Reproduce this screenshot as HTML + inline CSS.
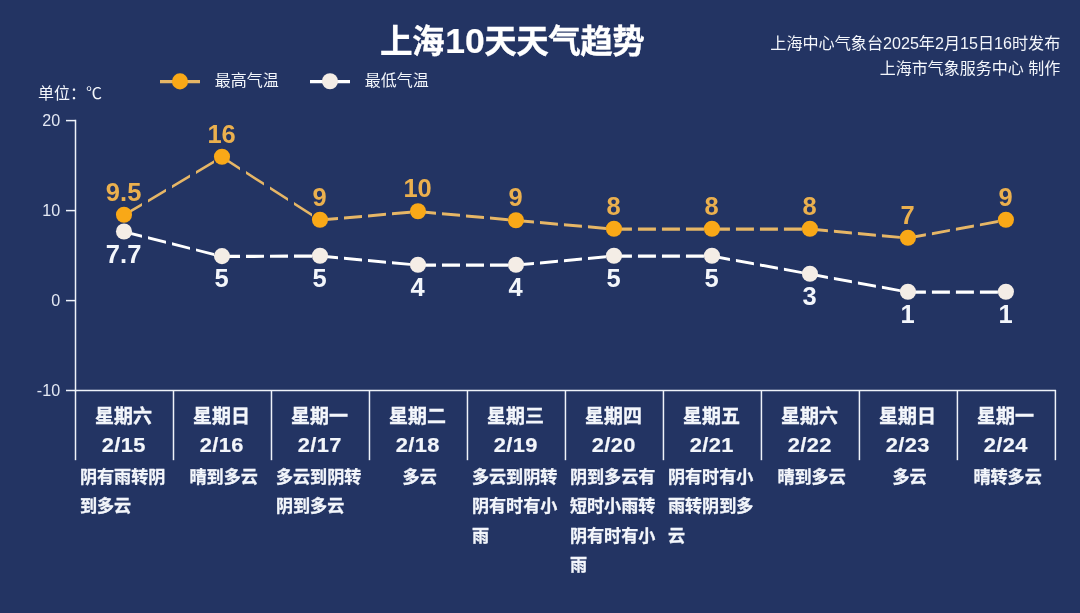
<!DOCTYPE html>
<html lang="zh-CN">
<head>
<meta charset="utf-8">
<title>上海10天天气趋势</title>
<style>
html,body{margin:0;padding:0;background:#233463;}
body{width:1080px;height:613px;overflow:hidden;}
svg{display:block;font-family:"Liberation Sans","Noto Sans CJK SC",sans-serif;fill:#f3f6fb;}
.title{font-size:32.6px;font-weight:bold;fill:#fff;letter-spacing:-0.6px;stroke:#fff;stroke-width:0.3px;}
.title .tn{font-size:35.5px;letter-spacing:0;stroke-width:0.2px;}
.sub{font-size:16px;}
.yl text{font-size:16.8px;fill:#e3e8f3;}
.dl text{font-size:26.3px;font-weight:bold;}
.dl text.w{font-size:25.5px;}
.xl text{font-size:19px;font-weight:bold;stroke:#f3f6fb;stroke-width:0.35px;}
.xl text.dt{font-size:20.8px;stroke-width:0.2px;letter-spacing:0.4px;}
.ds text{font-size:17.1px;font-weight:bold;stroke:#f3f6fb;stroke-width:0.3px;}
</style>
</head>
<body>
<svg width="1080" height="613" viewBox="0 0 1080 613">
<rect width="1080" height="613" fill="#233463"/>
<g stroke="#eef2f9" stroke-width="1.5" fill="none">
<path d="M75.5 119.7V391.2"/>
<path d="M66.0 390.5H1056.1"/>
<path d="M66.0 120.6H75.5"/>
<path d="M66.0 210.6H75.5"/>
<path d="M66.0 300.6H75.5"/>
<path d="M173.49 390.5V460.2"/>
<path d="M271.48 390.5V460.2"/>
<path d="M369.47 390.5V460.2"/>
<path d="M467.46 390.5V460.2"/>
<path d="M565.45 390.5V460.2"/>
<path d="M663.44 390.5V460.2"/>
<path d="M761.43 390.5V460.2"/>
<path d="M859.42 390.5V460.2"/>
<path d="M957.41 390.5V460.2"/>
<path d="M1055.40 390.5V460.2"/>
<path d="M75.50 390.5V460.2"/>
</g>
<g class="yl" text-anchor="end">
<text transform="translate(60.10 126.30) scale(0.960 1)" >20</text>
<text transform="translate(60.10 216.30) scale(0.960 1)" >10</text>
<text transform="translate(60.10 306.30) scale(0.960 1)" >0</text>
<text transform="translate(60.10 396.30) scale(0.960 1)" >-10</text>
</g>
<text class="title" x="380" y="53">上海<tspan class="tn" dx="1.2">10</tspan><tspan dx="-0.4">天天气趋势</tspan></text>
<text class="sub" x="1060.3" y="49.3" text-anchor="end" textLength="290" lengthAdjust="spacingAndGlyphs">上海中心气象台2025年2月15日16时发布</text>
<text class="sub" x="1060.3" y="74.4" text-anchor="end">上海市气象服务中心 制作</text>
<text class="sub unit" x="38" y="98.6">单位：℃</text>
<path d="M160 81.6H200" stroke="#e6b666" stroke-width="3.4"/>
<circle cx="180" cy="81.4" r="8.05" fill="#f9a817"/>
<text class="sub" x="214.8" y="86.4">最高气温</text>
<path d="M310 81.6H350" stroke="#ffffff" stroke-width="3.4"/>
<circle cx="330" cy="81.3" r="8.05" fill="#f4ede6"/>
<text class="sub" x="364.8" y="86.4">最低气温</text>
<path d="M124.00 213.61L142.00 202.96L142.00 205.93L124.00 216.59ZM148.00 199.41L166.00 188.75L166.00 191.73L148.00 202.38ZM172.00 185.20L190.00 174.55L190.00 177.52L172.00 188.18ZM196.00 171.00L214.00 160.34L214.00 163.32L196.00 173.97ZM220.00 156.79L221.99 155.61L221.99 158.59L220.00 159.77ZM221.99 155.61L239.99 167.18L239.99 170.16L221.99 158.59ZM245.99 171.04L263.99 182.61L263.99 185.59L245.99 174.02ZM269.99 186.47L287.99 198.04L287.99 201.02L269.99 189.45ZM293.99 201.90L311.99 213.48L311.99 216.45L293.99 204.88ZM317.99 217.33L319.98 218.61L319.98 221.59L317.99 220.31ZM319.98 218.61L337.98 217.03L337.98 220.01L319.98 221.59ZM343.98 216.51L361.98 214.93L361.98 217.90L343.98 219.48ZM367.98 214.40L385.98 212.82L385.98 215.80L367.98 217.38ZM391.98 212.29L409.98 210.71L409.98 213.69L391.98 215.27ZM415.98 210.19L417.97 210.01L417.97 212.99L415.98 213.16ZM417.97 210.01L435.97 211.67L435.97 214.64L417.97 212.99ZM441.97 212.22L459.97 213.87L459.97 216.85L441.97 215.19ZM465.97 214.42L483.97 216.07L483.97 219.05L465.97 217.40ZM489.97 216.62L507.97 218.28L507.97 221.25L489.97 219.60ZM513.97 218.83L515.96 219.01L515.96 221.99L513.97 221.81ZM515.96 219.01L533.96 220.59L533.96 223.57L515.96 221.99ZM539.96 221.12L557.96 222.70L557.96 225.67L539.96 224.09ZM563.96 223.22L581.96 224.80L581.96 227.78L563.96 226.20ZM587.96 225.33L605.96 226.91L605.96 229.89L587.96 228.31ZM611.96 227.44L613.95 227.61L613.95 230.59L611.96 230.41ZM613.95 227.50L631.95 227.50L631.95 230.70L613.95 230.70ZM637.95 227.50L655.95 227.50L655.95 230.70L637.95 230.70ZM661.95 227.50L679.95 227.50L679.95 230.70L661.95 230.70ZM685.95 227.50L703.95 227.50L703.95 230.70L685.95 230.70ZM709.95 227.50L711.94 227.50L711.94 230.70L709.95 230.70ZM711.94 227.50L729.94 227.50L729.94 230.70L711.94 230.70ZM735.94 227.50L753.94 227.50L753.94 230.70L735.94 230.70ZM759.94 227.50L777.94 227.50L777.94 230.70L759.94 230.70ZM783.94 227.50L801.94 227.50L801.94 230.70L783.94 230.70ZM807.94 227.50L809.93 227.50L809.93 230.70L807.94 230.70ZM809.93 227.61L827.93 229.27L827.93 232.24L809.93 230.59ZM833.93 229.82L851.93 231.47L851.93 234.45L833.93 232.79ZM857.93 232.02L875.93 233.67L875.93 236.65L857.93 235.00ZM881.93 234.22L899.93 235.88L899.93 238.85L881.93 237.20ZM905.93 236.43L907.92 236.61L907.92 239.59L905.93 239.41ZM907.92 236.61L925.92 233.31L925.92 236.28L907.92 239.59ZM931.92 232.20L949.92 228.90L949.92 231.87L931.92 235.18ZM955.92 227.79L973.92 224.49L973.92 227.46L955.92 230.77ZM979.92 223.39L997.92 220.08L997.92 223.06L979.92 226.36ZM1003.92 218.98L1005.91 218.61L1005.91 221.59L1003.92 221.95Z" fill="#e6b666" stroke="none"/>
<path d="M124.00 230.31L142.00 234.83L142.00 237.81L124.00 233.29ZM148.00 236.34L166.00 240.86L166.00 243.83L148.00 239.31ZM172.00 242.36L190.00 246.88L190.00 249.86L172.00 245.34ZM196.00 248.39L214.00 252.91L214.00 255.88L196.00 251.36ZM220.00 254.41L221.99 254.91L221.99 257.89L220.00 257.39ZM221.99 254.80L239.99 254.74L239.99 257.94L221.99 258.00ZM245.99 254.73L263.99 254.67L263.99 257.87L245.99 257.93ZM269.99 254.65L287.99 254.60L287.99 257.80L269.99 257.85ZM293.99 254.58L311.99 254.52L311.99 257.72L293.99 257.78ZM317.99 254.51L319.98 254.50L319.98 257.70L317.99 257.71ZM319.98 254.61L337.98 256.27L337.98 259.24L319.98 257.59ZM343.98 256.82L361.98 258.47L361.98 261.45L343.98 259.79ZM367.98 259.02L385.98 260.67L385.98 263.65L367.98 262.00ZM391.98 261.22L409.98 262.88L409.98 265.85L391.98 264.20ZM415.98 263.43L417.97 263.61L417.97 266.59L415.98 266.41ZM417.97 263.50L435.97 263.50L435.97 266.70L417.97 266.70ZM441.97 263.50L459.97 263.50L459.97 266.70L441.97 266.70ZM465.97 263.50L483.97 263.50L483.97 266.70L465.97 266.70ZM489.97 263.50L507.97 263.50L507.97 266.70L489.97 266.70ZM513.97 263.50L515.96 263.50L515.96 266.70L513.97 266.70ZM515.96 263.61L533.96 261.96L533.96 264.93L515.96 266.59ZM539.96 261.41L557.96 259.75L557.96 262.73L539.96 264.38ZM563.96 259.20L581.96 257.55L581.96 260.53L563.96 262.18ZM587.96 257.00L605.96 255.35L605.96 258.32L587.96 259.98ZM611.96 254.79L613.95 254.61L613.95 257.59L611.96 257.77ZM613.95 254.50L631.95 254.50L631.95 257.70L613.95 257.70ZM637.95 254.50L655.95 254.50L655.95 257.70L637.95 257.70ZM661.95 254.50L679.95 254.50L679.95 257.70L661.95 257.70ZM685.95 254.50L703.95 254.50L703.95 257.70L685.95 257.70ZM709.95 254.50L711.94 254.50L711.94 257.70L709.95 257.70ZM711.94 254.61L729.94 257.92L729.94 260.89L711.94 257.59ZM735.94 259.02L753.94 262.33L753.94 265.30L735.94 262.00ZM759.94 263.43L777.94 266.74L777.94 269.71L759.94 266.41ZM783.94 267.84L801.94 271.14L801.94 274.12L783.94 270.81ZM807.94 272.25L809.93 272.61L809.93 275.59L807.94 275.22ZM809.93 272.61L827.93 275.92L827.93 278.89L809.93 275.59ZM833.93 277.02L851.93 280.33L851.93 283.30L833.93 280.00ZM857.93 281.43L875.93 284.74L875.93 287.71L857.93 284.41ZM881.93 285.84L899.93 289.14L899.93 292.12L881.93 288.81ZM905.93 290.25L907.92 290.61L907.92 293.59L905.93 293.22ZM907.92 290.50L925.92 290.50L925.92 293.70L907.92 293.70ZM931.92 290.50L949.92 290.50L949.92 293.70L931.92 293.70ZM955.92 290.50L973.92 290.50L973.92 293.70L955.92 293.70ZM979.92 290.50L997.92 290.50L997.92 293.70L979.92 293.70ZM1003.92 290.50L1005.91 290.50L1005.91 293.70L1003.92 293.70Z" fill="#ffffff" stroke="none"/>
<circle cx="124.00" cy="214.80" r="8.05" fill="#f9a817"/>
<circle cx="221.99" cy="156.80" r="8.05" fill="#f9a817"/>
<circle cx="319.98" cy="219.80" r="8.05" fill="#f9a817"/>
<circle cx="417.97" cy="211.20" r="8.05" fill="#f9a817"/>
<circle cx="515.96" cy="220.20" r="8.05" fill="#f9a817"/>
<circle cx="613.95" cy="228.80" r="8.05" fill="#f9a817"/>
<circle cx="711.94" cy="228.80" r="8.05" fill="#f9a817"/>
<circle cx="809.93" cy="228.80" r="8.05" fill="#f9a817"/>
<circle cx="907.92" cy="237.80" r="8.05" fill="#f9a817"/>
<circle cx="1005.91" cy="219.80" r="8.05" fill="#f9a817"/>
<circle cx="124.00" cy="231.50" r="8.05" fill="#f4ede6"/>
<circle cx="221.99" cy="256.10" r="8.05" fill="#f4ede6"/>
<circle cx="319.98" cy="255.80" r="8.05" fill="#f4ede6"/>
<circle cx="417.97" cy="264.80" r="8.05" fill="#f4ede6"/>
<circle cx="515.96" cy="264.80" r="8.05" fill="#f4ede6"/>
<circle cx="613.95" cy="255.80" r="8.05" fill="#f4ede6"/>
<circle cx="711.94" cy="255.80" r="8.05" fill="#f4ede6"/>
<circle cx="809.93" cy="273.80" r="8.05" fill="#f4ede6"/>
<circle cx="907.92" cy="291.80" r="8.05" fill="#f4ede6"/>
<circle cx="1005.91" cy="291.80" r="8.05" fill="#f4ede6"/>
<g class="dl" text-anchor="middle">
<text transform="translate(123.59 201.10) scale(0.970 1)" fill="#ebb04e">9.5</text>
<text transform="translate(221.59 143.10) scale(0.970 1)" fill="#ebb04e">16</text>
<text transform="translate(319.58 206.10) scale(0.970 1)" fill="#ebb04e">9</text>
<text transform="translate(417.57 197.10) scale(0.970 1)" fill="#ebb04e">10</text>
<text transform="translate(515.56 206.10) scale(0.970 1)" fill="#ebb04e">9</text>
<text transform="translate(613.55 215.10) scale(0.970 1)" fill="#ebb04e">8</text>
<text transform="translate(711.54 215.10) scale(0.970 1)" fill="#ebb04e">8</text>
<text transform="translate(809.53 215.10) scale(0.970 1)" fill="#ebb04e">8</text>
<text transform="translate(907.52 224.10) scale(0.970 1)" fill="#ebb04e">7</text>
<text transform="translate(1005.51 206.10) scale(0.970 1)" fill="#ebb04e">9</text>
<text transform="translate(123.59 262.60) scale(1.000 1)" class="w">7.7</text>
<text transform="translate(221.59 286.90) scale(1.000 1)" class="w">5</text>
<text transform="translate(319.58 286.90) scale(1.000 1)" class="w">5</text>
<text transform="translate(417.57 295.90) scale(1.000 1)" class="w">4</text>
<text transform="translate(515.56 295.90) scale(1.000 1)" class="w">4</text>
<text transform="translate(613.55 286.90) scale(1.000 1)" class="w">5</text>
<text transform="translate(711.54 286.90) scale(1.000 1)" class="w">5</text>
<text transform="translate(809.53 304.90) scale(1.000 1)" class="w">3</text>
<text transform="translate(907.52 322.90) scale(1.000 1)" class="w">1</text>
<text transform="translate(1005.51 322.90) scale(1.000 1)" class="w">1</text>
</g>
<g class="xl" text-anchor="middle">
<text x="123.59" y="422.6">星期六</text>
<text transform="translate(123.80 452.10) scale(1.050 1)" class="dt">2/15</text>
<text x="221.59" y="422.6">星期日</text>
<text transform="translate(221.79 452.10) scale(1.050 1)" class="dt">2/16</text>
<text x="319.58" y="422.6">星期一</text>
<text transform="translate(319.78 452.10) scale(1.050 1)" class="dt">2/17</text>
<text x="417.57" y="422.6">星期二</text>
<text transform="translate(417.77 452.10) scale(1.050 1)" class="dt">2/18</text>
<text x="515.56" y="422.6">星期三</text>
<text transform="translate(515.75 452.10) scale(1.050 1)" class="dt">2/19</text>
<text x="613.55" y="422.6">星期四</text>
<text transform="translate(613.75 452.10) scale(1.050 1)" class="dt">2/20</text>
<text x="711.54" y="422.6">星期五</text>
<text transform="translate(711.74 452.10) scale(1.050 1)" class="dt">2/21</text>
<text x="809.53" y="422.6">星期六</text>
<text transform="translate(809.73 452.10) scale(1.050 1)" class="dt">2/22</text>
<text x="907.52" y="422.6">星期日</text>
<text transform="translate(907.72 452.10) scale(1.050 1)" class="dt">2/23</text>
<text x="1005.51" y="422.6">星期一</text>
<text transform="translate(1005.71 452.10) scale(1.050 1)" class="dt">2/24</text>
</g>
<g class="ds">
<text x="79.95" y="483.1">阴有雨转阴</text>
<text x="79.95" y="512.3">到多云</text>
<text x="189.49" y="483.1">晴到多云</text>
<text x="275.93" y="483.1">多云到阴转</text>
<text x="275.93" y="512.3">阴到多云</text>
<text x="402.56" y="483.1">多云</text>
<text x="471.91" y="483.1">多云到阴转</text>
<text x="471.91" y="512.3">阴有时有小</text>
<text x="471.91" y="541.5">雨</text>
<text x="569.90" y="483.1">阴到多云有</text>
<text x="569.90" y="512.3">短时小雨转</text>
<text x="569.90" y="541.5">阴有时有小</text>
<text x="569.90" y="570.7">雨</text>
<text x="667.89" y="483.1">阴有时有小</text>
<text x="667.89" y="512.3">雨转阴到多</text>
<text x="667.89" y="541.5">云</text>
<text x="777.43" y="483.1">晴到多云</text>
<text x="892.52" y="483.1">多云</text>
<text x="973.41" y="483.1">晴转多云</text>
</g>
</svg>
</body>
</html>
